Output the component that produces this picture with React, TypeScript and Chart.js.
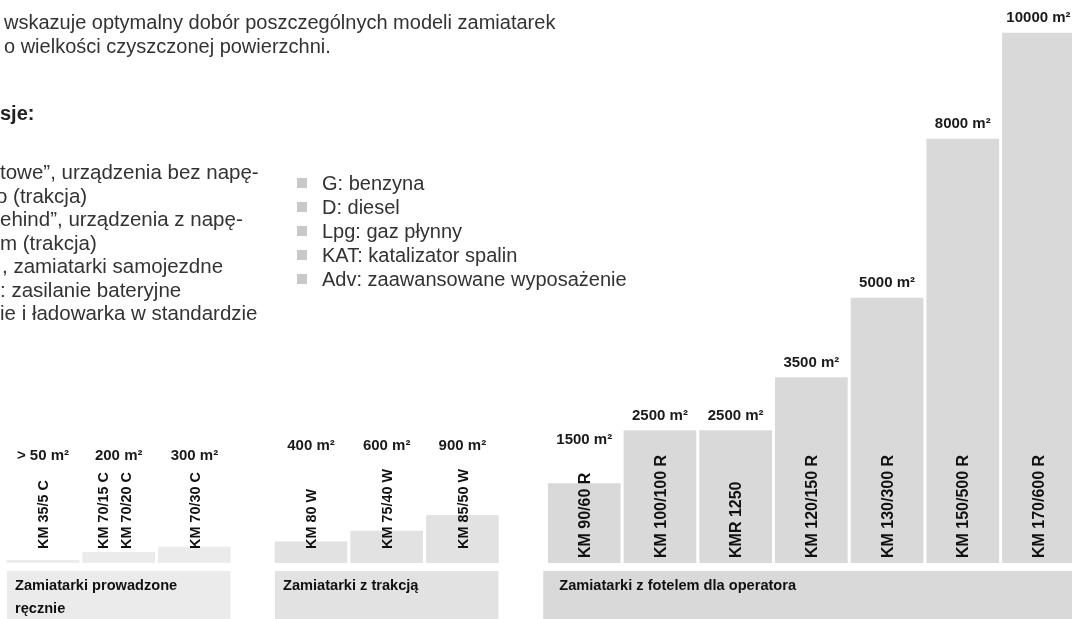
import { useEffect, useRef } from "react";
import { Chart, registerables } from "chart.js";

Chart.register(...registerables);

// ---------- data ----------
const models: string[][] = [
  ["KM 35/5 C"],
  ["KM 70/15 C", "KM 70/20 C"],
  ["KM 70/30 C"],
  ["KM 80 W"],
  ["KM 75/40 W"],
  ["KM 85/50 W"],
  ["KM 90/60 R"],
  ["KM 100/100 R"],
  ["KMR 1250"],
  ["KM 120/150 R"],
  ["KM 130/300 R"],
  ["KM 150/500 R"],
  ["KM 170/600 R"],
];
const areas = [50, 200, 300, 400, 600, 900, 1500, 2500, 2500, 3500, 5000, 8000, 10000];
const areaLabels = [
  "> 50 m²", "200 m²", "300 m²", "400 m²", "600 m²", "900 m²",
  "1500 m²", "2500 m²", "2500 m²", "3500 m²", "5000 m²", "8000 m²", "10000 m²",
];
const groupOf = [0, 0, 0, 1, 1, 1, 2, 2, 2, 2, 2, 2, 2];
const groupNames: string[][] = [
  ["Zamiatarki prowadzone", "ręcznie"],
  ["Zamiatarki z trakcją"],
  ["Zamiatarki z fotelem dla operatora"],
];
const introLines = [
  "wskazuje optymalny dobór poszczególnych modeli zamiatarek",
  "o wielkości czyszczonej powierzchni.",
];
const headingText = "sje:";
const noteLines = [
  "towe”, urządzenia bez napę-",
  "o (trakcja)",
  "ehind”, urządzenia z napę-",
  "m (trakcja)",
  ", zamiatarki samojezdne",
  ": zasilanie bateryjne",
  "ie i ładowarka w standardzie",
];
const fuelLegend = [
  "G: benzyna",
  "D: diesel",
  "Lpg: gaz płynny",
  "KAT: katalizator spalin",
  "Adv: zaawansowane wyposażenie",
];

// ---------- layout / style ----------
const W = 1072;
const H = 619;
const GROUP_SHIFT = [0, 0.54, 1.15];
const BAR_COLORS = ["#ebebeb", "#e2e2e2", "#d9d9d9"];
const BOX_COLORS = ["#ebebeb", "#e2e2e2", "#d9d9d9"];
const MODEL_SIZE = [14.4, 14.4, 16];
const MODEL_GAP = [14, 14, 5];
const LABEL_GAP = [18, 24, 34];
const ALIGN_GROUP_LABELS = [true, true, false];
const SANS = '"Liberation Sans", Arial, Helvetica, sans-serif';

const overlay = {
  id: "overlay",
  afterDatasetsDraw(chart: any) {
    const ctx: CanvasRenderingContext2D = chart.ctx;
    const ys = chart.scales.y;
    const base = ys.getPixelForValue(0);
    const bars = chart.getDatasetMeta(0).data;

    ctx.save();
    // rotated model names inside bars
    const textTops: number[] = [];
    bars.forEach((bar: any, i: number) => {
      const g = groupOf[i];
      const size = MODEL_SIZE[g];
      ctx.font = `bold ${size}px ${SANS}`;
      ctx.fillStyle = "#111";
      ctx.textAlign = "left";
      ctx.textBaseline = "alphabetic";
      const lines = models[i];
      const capH = size * 0.716;
      const spacing = 23;
      let maxLen = 0;
      lines.forEach((t, k) => {
        const off = (k - (lines.length - 1) / 2) * spacing - (lines.length > 1 ? 4 : 0);
        ctx.save();
        ctx.translate(bar.x + off, base - MODEL_GAP[g]);
        ctx.rotate(-Math.PI / 2);
        ctx.fillText(t, 0, capH / 2);
        ctx.restore();
        maxLen = Math.max(maxLen, ctx.measureText(t).width);
      });
      textTops.push(base - MODEL_GAP[g] - maxLen);
    });

    // value labels
    const labelY: number[] = bars.map((bar: any, i: number) =>
      Math.min(bar.y - 16, textTops[i] - LABEL_GAP[groupOf[i]])
    );
    [0, 1, 2].forEach((g) => {
      if (!ALIGN_GROUP_LABELS[g]) return;
      const idx = groupOf.map((gg, i) => (gg === g ? i : -1)).filter((i) => i >= 0);
      const m = Math.min(...idx.map((i) => labelY[i]));
      idx.forEach((i) => (labelY[i] = m));
    });
    ctx.font = `bold 15px ${SANS}`;
    ctx.fillStyle = "#1a1a1a";
    ctx.textAlign = "center";
    ctx.textBaseline = "alphabetic";
    bars.forEach((bar: any, i: number) => {
      ctx.fillText(areaLabels[i], bar.x, labelY[i] + 5.4);
    });

    // group boxes
    [0, 1, 2].forEach((g) => {
      const idx = groupOf.map((gg, i) => (gg === g ? i : -1)).filter((i) => i >= 0);
      const left = Math.min(...idx.map((i) => bars[i].x - bars[i].width / 2)) - (g === 2 ? 5 : 0);
      const right = Math.min(W, Math.max(...idx.map((i) => bars[i].x + bars[i].width / 2)));
      const top = base + 8;
      ctx.fillStyle = BOX_COLORS[g];
      ctx.fillRect(left, top, right - left, H - top);
      ctx.fillStyle = "#111";
      ctx.font = `bold 14.6px ${SANS}`;
      ctx.textAlign = "left";
      groupNames[g].forEach((t, k) => {
        ctx.fillText(t, left + (g === 2 ? 16 : 8), top + 19 + k * 23);
      });
    });

    // intro text
    ctx.fillStyle = "#333";
    ctx.font = `20px ${SANS}`;
    ctx.textAlign = "left";
    introLines.forEach((t, k) => ctx.fillText(t, 4, 29 + k * 23.5));
    ctx.font = `bold 20px ${SANS}`;
    ctx.fillStyle = "#222";
    ctx.fillText(headingText, 0, 120);
    ctx.font = `20.5px ${SANS}`;
    ctx.fillStyle = "#333";
    const noteX = [0, -4, 0, 0, 2, 0, 0];
    noteLines.forEach((t, k) => ctx.fillText(t, noteX[k], 179 + k * 23.5));

    // fuel legend
    ctx.font = `20px ${SANS}`;
    fuelLegend.forEach((t, k) => {
      const yb = 190 + k * 24;
      ctx.fillStyle = "#c8c8c8";
      ctx.fillRect(297, yb - 12, 10, 10);
      ctx.fillStyle = "#333";
      ctx.fillText(t, 322, yb);
    });
    ctx.restore();
  },
};

export default function App() {
  const ref = useRef<HTMLCanvasElement>(null);
  useEffect(() => {
    const pitch = 75.7;
    const padLeft = 43 - pitch / 2;
    const xMax = -0.5 + (W - padLeft) / pitch;
    const chart = new Chart(ref.current as HTMLCanvasElement, {
      type: "bar",
      data: {
        datasets: [
          {
            data: areas.map((v, i) => ({ x: i + GROUP_SHIFT[groupOf[i]], y: v })) as any,
            backgroundColor: areas.map((_, i) => BAR_COLORS[groupOf[i]]),
            borderWidth: 0,
            barThickness: 72,
          },
        ],
      },
      options: {
        responsive: false,
        animation: false,
        layout: { padding: { left: padLeft, right: 0, top: 0, bottom: 56 } },
        plugins: { legend: { display: false }, tooltip: { enabled: false } },
        scales: {
          x: { type: "linear", display: false, min: -0.5, max: xMax, offset: false },
          y: { display: false, min: 0, max: 563 / 0.053 },
        },
      },
      plugins: [overlay],
    });
    return () => chart.destroy();
  }, []);
  return (
    <div style={{ position: "absolute", left: 0, top: 0, width: W, height: H, background: "#fff" }}>
      <canvas ref={ref} width={W} height={H} style={{ display: "block" }} />
    </div>
  );
}
